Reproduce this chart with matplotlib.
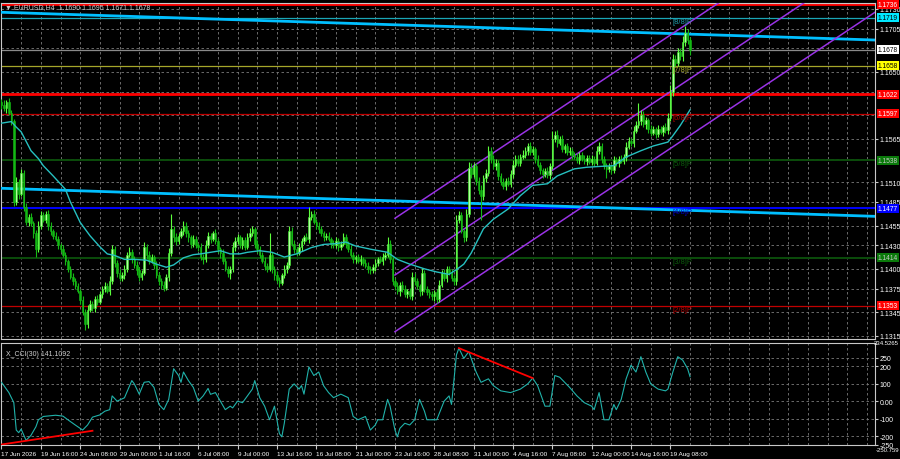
import numpy as np
import matplotlib
matplotlib.use('Agg')
import matplotlib.pyplot as plt
from matplotlib.transforms import blended_transform_factory

plt.rcParams['font.family'] = ['Liberation Sans', 'DejaVu Sans']

# H4 closes, in pips above 1.0000
closes = [
    1608, 1604, 1612, 1598, 1588, 1485, 1510, 1495, 1522, 1478, 1460, 1466, 1458, 1445, 1425, 1455, 1468, 1462, 1470, 1455,
    1448, 1442, 1438, 1430, 1425, 1418, 1410, 1400, 1390, 1385, 1378, 1372, 1360, 1345, 1330, 1348, 1355, 1350, 1362, 1358,
    1368, 1375, 1378, 1372, 1385, 1425, 1408, 1395, 1388, 1392, 1400, 1418, 1422, 1412, 1405, 1398, 1390, 1395, 1428, 1418,
    1410, 1415, 1405, 1392, 1385, 1380, 1376, 1390, 1420, 1450, 1440, 1435, 1442, 1448, 1455, 1445, 1440, 1432, 1438, 1430,
    1428, 1415, 1412, 1430, 1442, 1438, 1445, 1435, 1425, 1420, 1410, 1400, 1395, 1400, 1428, 1435, 1440, 1430, 1436, 1428,
    1440, 1446, 1450, 1432, 1425, 1418, 1410, 1404, 1400, 1418, 1400, 1392, 1386, 1382, 1392, 1400, 1405, 1448, 1432, 1425,
    1420, 1428, 1435, 1440, 1438, 1466, 1470, 1460, 1455, 1450, 1445, 1440, 1442, 1438, 1432, 1430, 1435, 1428, 1432, 1440,
    1432, 1425, 1418, 1412, 1415, 1410, 1412, 1408, 1404, 1400, 1398, 1402, 1408, 1412, 1410, 1415, 1418, 1432, 1412, 1385,
    1378, 1372, 1380, 1375, 1368, 1372, 1365, 1390, 1385, 1378, 1372, 1395, 1375, 1370, 1368, 1365, 1370, 1362, 1380, 1395,
    1388, 1400, 1395, 1388, 1385, 1462, 1468, 1448, 1440, 1470, 1528, 1520, 1530, 1512, 1500, 1492, 1515, 1522, 1550, 1540,
    1530, 1535, 1518, 1510, 1505, 1512, 1508, 1520, 1532, 1540, 1535, 1542, 1545, 1550, 1556, 1548, 1552, 1540, 1532, 1525,
    1520, 1524, 1519, 1530, 1565, 1570, 1560, 1565, 1552, 1556, 1548, 1550, 1545, 1542, 1538, 1545, 1540, 1537, 1541, 1536,
    1540, 1535, 1550, 1556, 1540, 1530, 1527, 1530, 1525, 1538, 1534, 1540, 1537, 1542, 1555, 1562, 1560, 1575, 1583, 1588,
    1596, 1584, 1589, 1578, 1573, 1577, 1571, 1578, 1574, 1580, 1576, 1592, 1625, 1666, 1662, 1675, 1670, 1688, 1700, 1690,
    1678,
]
first_open = 1612

wick_hi = [
    4, 6, 3, 5, 4, 2, 6, 4, 5, 3, 6, 4, 5, 3, 4, 6, 5, 4, 3, 5,
    4, 3, 5, 4, 3, 5, 4, 3, 4, 5, 3, 4, 3, 5, 4, 6, 5, 4, 3, 5,
    4, 3, 5, 4, 6, 5, 4, 3, 5, 4, 5, 4, 6, 3, 4, 5, 4, 3, 6, 4,
    5, 4, 3, 5, 4, 3, 5, 4, 6, 20, 4, 5, 3, 4, 6, 5, 4, 3, 5, 4,
    3, 5, 4, 6, 5, 4, 3, 5, 4, 3, 5, 4, 3, 4, 6, 5, 4, 3, 5, 4,
    5, 6, 4, 3, 5, 4, 3, 5, 4, 28, 4, 3, 5, 4, 3, 5, 4, 6, 5, 4,
    3, 5, 4, 3, 5, 12, 4, 5, 3, 4, 5, 3, 4, 5, 3, 4, 5, 4, 3, 5,
    4, 3, 5, 4, 3, 4, 5, 3, 4, 5, 3, 4, 5, 3, 4, 5, 4, 8, 5, 3,
    4, 5, 3, 4, 5, 3, 4, 6, 5, 4, 3, 6, 4, 3, 5, 4, 3, 5, 6, 4,
    5, 4, 3, 5, 4, 6, 5, 4, 3, 6, 8, 6, 5, 4, 5, 6, 4, 5, 6, 5,
    4, 5, 3, 4, 5, 3, 4, 5, 6, 4, 5, 4, 6, 5, 4, 5, 4, 3, 5, 4,
    3, 4, 5, 4, 10, 5, 6, 4, 5, 3, 4, 5, 3, 4, 5, 3, 4, 5, 3, 4,
    5, 3, 6, 5, 4, 3, 5, 4, 3, 5, 4, 3, 5, 4, 6, 5, 4, 6, 5, 22,
    6, 5, 4, 3, 5, 4, 3, 5, 4, 3, 5, 6, 8, 7, 6, 5, 6, 8, 8, 5,
    5,
]
wick_lo = [
    5, 4, 6, 3, 5, 5, 4, 6, 3, 5, 4, 5, 3, 6, 10, 4, 5, 3, 4, 6,
    5, 4, 3, 5, 4, 3, 5, 4, 3, 5, 4, 3, 5, 4, 8, 5, 3, 4, 5, 4,
    3, 5, 4, 3, 5, 4, 6, 5, 4, 3, 5, 4, 3, 5, 4, 6, 5, 4, 3, 5,
    4, 3, 5, 4, 6, 5, 4, 3, 5, 4, 6, 5, 4, 3, 5, 4, 6, 5, 4, 3,
    5, 4, 6, 3, 4, 5, 3, 4, 5, 6, 4, 3, 5, 8, 4, 5, 3, 4, 5, 4,
    3, 5, 4, 6, 5, 4, 3, 5, 4, 3, 5, 6, 4, 5, 3, 4, 5, 4, 3, 5,
    4, 3, 5, 4, 3, 5, 4, 3, 5, 4, 3, 5, 4, 3, 5, 4, 3, 5, 4, 3,
    5, 4, 3, 5, 4, 3, 5, 4, 3, 5, 4, 3, 5, 4, 3, 5, 4, 3, 5, 6,
    5, 4, 6, 5, 4, 5, 3, 4, 5, 4, 6, 5, 4, 3, 5, 4, 6, 5, 4, 3,
    4, 5, 3, 4, 6, 5, 4, 3, 6, 5, 4, 5, 3, 6, 5, 30, 4, 5, 4, 5,
    3, 4, 5, 3, 4, 5, 3, 4, 5, 3, 4, 5, 3, 4, 5, 3, 4, 5, 3, 4,
    5, 3, 4, 5, 3, 4, 5, 3, 4, 5, 3, 4, 5, 3, 4, 5, 3, 4, 5, 3,
    4, 5, 3, 4, 5, 3, 12, 4, 5, 3, 4, 5, 3, 4, 5, 3, 4, 5, 3, 4,
    5, 4, 6, 5, 4, 3, 5, 4, 3, 5, 4, 5, 4, 6, 5, 4, 5, 6, 5, 4,
    7,
]

# moving average (bar, pips above 1.1000)
ma_points = [(0, 585), (4, 587), (6, 580), (8, 574), (12, 550), (15, 540), (17, 531), (21, 518),
             (26, 501), (28, 485), (32, 459), (36, 442), (40, 428), (43, 419), (46, 417), (50, 412),
             (54, 412), (59, 411), (63, 406), (67, 402), (70, 405), (74, 414), (78, 418), (81, 419),
             (85, 421), (89, 423), (93, 419), (97, 419), (100, 421), (105, 423), (110, 421), (115, 415),
             (120, 419), (126, 427), (131, 431), (136, 432), (140, 434), (144, 429), (150, 425), (157, 421),
             (161, 412), (166, 406), (172, 400), (177, 396), (182, 393), (185, 399), (188, 406), (191, 420),
             (196, 451), (200, 463), (206, 476), (211, 493), (216, 506), (222, 508), (226, 518), (233, 527),
             (238, 529), (243, 530), (249, 531), (254, 542), (260, 550), (265, 556), (271, 561), (273, 569),
             (276, 582), (280, 602)]

# X_CCI(30) (bar, value)
cci_points = [(0, 109), (3, 50), (5, -7), (6, -165), (7, -180), (8, -160), (10, -224), (12, -195),
              (14, -146), (15, -106), (17, -87), (20, -83), (22, -80), (25, -85), (27, -106), (30, -136),
              (33, -165), (35, -136), (37, -91), (40, -78), (42, -57), (44, -48), (45, 31), (47, 1),
              (50, 20), (53, 119), (54, 100), (56, 41), (58, 109), (60, 113), (62, 80), (64, -18),
              (66, -48), (68, 11), (70, 187), (72, 148), (73, 109), (74, 168), (76, 119), (78, 80),
              (80, 1), (82, 31), (84, 74), (85, 40), (87, 50), (89, 1), (91, -48), (93, -28),
              (94, -38), (96, 1), (98, -8), (100, 31), (102, 70), (103, 119), (105, 21), (107, -28),
              (109, -106), (111, -28), (113, -185), (114, -204), (115, -126), (117, 70), (119, 100), (121, 70),
              (122, 90), (123, 41), (125, 197), (127, 148), (129, 168), (131, 89), (133, 50), (135, 21),
              (138, 41), (141, 21), (143, -87), (145, -106), (148, -87), (150, -165), (152, -136), (153, -106),
              (155, -106), (157, 11), (158, -28), (160, -165), (161, -204), (162, -155), (164, -126), (166, -136),
              (168, -106), (170, 11), (172, -57), (173, -106), (175, -106), (177, -106), (180, 1), (182, 31),
              (183, -18), (185, 266), (186, 305), (188, 246), (190, 285), (192, 207), (193, 168), (195, 109),
              (198, 129), (200, 90), (203, 60), (207, 50), (211, 70), (214, 100), (216, 133), (218, 90),
              (220, 11), (221, -28), (223, -28), (225, 148), (227, 138), (229, 109), (231, 80), (234, 31),
              (237, -8), (240, -28), (241, -48), (243, 50), (245, -106), (247, -106), (249, -18), (250, -48),
              (252, 11), (254, 129), (256, 207), (258, 168), (260, 256), (262, 168), (264, 100), (267, 70),
              (270, 60), (271, 70), (273, 168), (275, 256), (277, 236), (279, 187), (280, 141)]
cci_red_lines = [[(0, -248), (37, -169)], [(186, 305), (216, 133)]]

# horizontal levels: price, line colour, width, label box colour, label text colour
levels = [1.1736, 1.1719, 1.1678, 1.1658, 1.1622, 1.1597, 1.1538, 1.1477, 1.1414, 1.1353]
level_colors = ['#ff0000', '#1aa6b7', '#8a8a8a', '#a6a62a', '#ff0000', '#c00000', '#0b4d0b', '#0000ff', '#0b4d0b', '#c00000']
level_widths = [2.0, 0.9, 0.9, 0.9, 2.0, 0.9, 1.4, 1.4, 1.4, 0.9]
box_colors = ['#ff0000', '#00e8ff', '#ffffff', '#ffff00', '#ff0000', '#ff0000', '#0a7a0a', '#0000ff', '#0a7a0a', '#ff0000']
box_text = ['white', 'black', 'black', 'black', 'white', 'white', '#c8c8c8', 'white', '#c8c8c8', 'white']

murray_names = ['[8/8]P', '[7/8]P', '[6/8]P', '[5/8]P', '[4/8]P', '[3/8]P', '[2/8]P']
murray_prices = [1.1719, 1.1658, 1.1597, 1.1538, 1.1477, 1.1414, 1.1353]
murray_colors = ['#1e9aa8', '#a6a62a', '#b00000', '#0b5a0b', '#0000c8', '#0b5a0b', '#b00000']

trend_lines = [[(0, 1.17258), (355, 1.16906)], [(0, 1.15023), (355, 1.14667)]]
channel_bar0, channel_top0, channel_slope, channel_step = 160, 1.14642, 0.0002078, 0.0072

# tick labels hidden behind the level boxes are left out
price_ticks = [1.1730, 1.1705, 1.1650, 1.1565, 1.1510,
               1.1485, 1.1455, 1.1430, 1.1400, 1.1375, 1.1345, 1.1315]
grid_prices = [1.1730, 1.1705, 1.1680, 1.1650, 1.1625, 1.1595, 1.1565, 1.1540, 1.1510,
               1.1485, 1.1455, 1.1430, 1.1400, 1.1375, 1.1345, 1.1315]
cci_ticks = [250, 200, 100, 0, -100, -200, -250]
cci_tick_labels = ['250', '200', '100', '0.00', '-100', '-200', '-250']
x_labels = ['17 Jun 2026', '19 Jun 16:00', '24 Jun 08:00', '29 Jun 00:00', '1 Jul 16:00', '6 Jul 08:00',
            '9 Jul 00:00', '13 Jul 16:00', '16 Jul 08:00', '21 Jul 00:00', '23 Jul 16:00', '28 Jul 08:00',
            '31 Jul 00:00', '4 Aug 16:00', '7 Aug 08:00', '12 Aug 00:00', '14 Aug 16:00', '19 Aug 08:00']

BG = 'black'
GRID = '#7a7a7a'
FRAME = '#c8c8c8'
X_MAX = 355.2

c = 1.0 + np.array(closes) / 10000
o = np.r_[1.0 + first_open / 10000, c[:-1]]
h = np.maximum(o, c) + np.array(wick_hi) / 10000
l = np.minimum(o, c) - np.array(wick_lo) / 10000
idx = np.arange(len(c))

fig = plt.figure(figsize=(9, 4.6), dpi=100, facecolor=BG)
ax = fig.add_axes([1 / 900, 1 - 340 / 460, 874 / 900, 336 / 460], facecolor=BG)
ax2 = fig.add_axes([1 / 900, 1 - 446 / 460, 874 / 900, 102 / 460], facecolor=BG)

for a in (ax, ax2):
    a.set_xlim(-0.2, X_MAX)
    for s in a.spines.values():
        s.set_color(FRAME)
        s.set_linewidth(0.8)
    a.yaxis.tick_right()
    a.tick_params(axis='y', colors=FRAME, labelsize=5, length=2, pad=1.5, labelcolor='white')
    for gx in range(8, int(X_MAX), 8):
        a.axvline(gx, color=GRID, lw=0.6, ls=(0, (3, 3)), zorder=0)

# price panel
ax.set_ylim(1.13109, 1.17376)
ax.set_yticks(price_ticks)
ax.set_yticklabels([f'{p:.4f}' for p in price_ticks])
ax.set_xticks([])
for p in grid_prices:
    ax.axhline(p, color=GRID, lw=0.6, ls=(0, (3, 3)), zorder=0)

for p, col, lw in zip(levels, level_colors, level_widths):
    ax.axhline(p, color=col, lw=lw, zorder=2)

for (x0, y0), (x1, y1) in trend_lines:
    ax.plot([x0, x1], [y0, y1], color='#00bfff', lw=2.0, zorder=3)

cx = np.array([channel_bar0, X_MAX + 5])
for k in range(3):
    cy = channel_top0 - k * channel_step + (cx - channel_bar0) * channel_slope
    ax.plot(cx, cy, color='#9a32e6', lw=1.1, zorder=3)

up = c >= o
ax.vlines(idx[up], l[up], h[up], color='#5cff3c', lw=0.8, zorder=4)
ax.vlines(idx[~up], l[~up], h[~up], color='#14b814', lw=0.8, zorder=4)
body = np.where(np.abs(c - o) < 0.00005, 0.00005, c - o)
ax.bar(idx[up], body[up], bottom=o[up], width=0.62, color='#b4ffa0', edgecolor='#33ee22', lw=0.4, zorder=5)
ax.bar(idx[~up], body[~up], bottom=o[~up], width=0.62, color='#14b814', edgecolor='#14b814', lw=0.4, zorder=5)

ma_x, ma_y = zip(*ma_points)
ax.plot(ma_x, 1.1 + np.array(ma_y) / 10000, color='#26c0c0', lw=1.0, zorder=6)

for name, p, col in zip(murray_names, murray_prices, murray_colors):
    ax.text(273, p, name, color=col, fontsize=5.5, va='top', ha='left', zorder=7)

ytrans = blended_transform_factory(ax.transAxes, ax.transData)
for p, bc, tc in zip(levels, box_colors, box_text):
    ax.text(1.003, p, f'{p:.4f}', transform=ytrans, fontsize=4.8, color=tc, va='center', ha='left',
            bbox=dict(boxstyle='square,pad=0.15', fc=bc, ec='none'), zorder=8, clip_on=False)

fig.text(5 / 900, 1 - 8 / 460, '\u25bc EURUSD,H4  1.1690 1.1695 1.1671 1.1678', color='#c8c8c8',
         fontsize=5, va='center', ha='left')

# CCI panel
ax2.set_ylim(-250.759, 334.5265)
ax2.set_yticks(cci_ticks)
ax2.set_yticklabels(cci_tick_labels)
for t in cci_ticks:
    ax2.axhline(t, color=GRID, lw=0.6, ls=(0, (3, 3)), zorder=0)
cci_x, cci_y = zip(*cci_points)
ax2.plot(cci_x, cci_y, color='#20b2aa', lw=0.8, zorder=3)
for (x0, y0), (x1, y1) in cci_red_lines:
    ax2.plot([x0, x1], [y0, y1], color='#ff0000', lw=1.3, zorder=4)
fig.text(899 / 900, 1 - 344 / 460, '334.5265', fontsize=4.3, color='white', va='center', ha='right')
fig.text(899 / 900, 1 - 448 / 460, '-250.759', fontsize=4.3, color='white', va='top', ha='right')
ax2.text(0.006, 0.93, 'X_CCI(30) 141.1092', transform=ax2.transAxes, fontsize=5, color='#d0d0d0',
         va='top', ha='left')

ax2.set_xticks(np.arange(len(x_labels)) * 16)
ax2.set_xticklabels(x_labels, ha='left')
ax2.tick_params(axis='x', colors=FRAME, labelcolor='white', labelsize=4.6, length=3, pad=1)

fig.savefig('out.png', dpi=100, facecolor=BG)
